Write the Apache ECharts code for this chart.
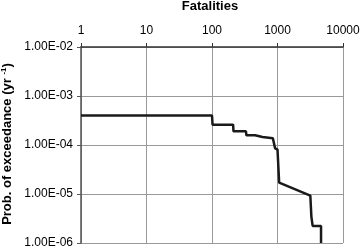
<!DOCTYPE html>
<html><head><meta charset="utf-8">
<script src="https://cdn.jsdelivr.net/npm/echarts@6/dist/echarts.min.js"></script>
<style>html,body{margin:0;padding:0;background:#fff}#c{width:360px;height:248px}</style>
</head><body><div id="c"></div>
<script>
var fatalities = [1, 100, 102, 210, 213, 330, 335, 455, 460, 590, 600, 850, 920, 1000, 1060, 3170, 3290, 3440, 4620, 4620];
var probExceed = [4.0e-4, 4.0e-4, 2.6e-4, 2.6e-4, 1.9e-4, 1.9e-4, 1.58e-4, 1.58e-4, 1.46e-4, 1.46e-4, 1.37e-4, 1.37e-4, 8.5e-5, 8.1e-5, 1.7e-5, 9.3e-6, 3.46e-6, 2.23e-6, 2.23e-6, 1.0e-6];
var xTicks = ['1', '10', '100', '1000', '10000'];
var yTicks = ['1.00E-06', '1.00E-05', '1.00E-04', '1.00E-03', '1.00E-02'];
var xTitle = 'Fatalities';
var yTitle = 'Prob. of exceedance (yr {s|-1})';

var pts = fatalities.map(function (f, i) { return [f, probExceed[i]]; });
function yFmt(v) {
  var e = Math.round(Math.log10(v));
  return yTicks[e + 6] || '';
}
function xFmt(v) {
  var e = Math.round(Math.log10(v));
  return xTicks[e] || '';
}
var chart = echarts.init(document.getElementById('c'), null, { renderer: 'canvas' });
var font = 'Liberation Sans, Arial, sans-serif';
chart.setOption({
  animation: false,
  grid: { left: 81, right: 17, top: 47, bottom: 5, containLabel: false, outerBoundsMode: 'none' },
  graphic: [
    { type: 'text', x: 210, y: 6, style: { text: xTitle, fontFamily: font, fontSize: 13, fontWeight: 'bold', fill: '#000', align: 'center', verticalAlign: 'middle' } },
    { type: 'text', x: 7, y: 144, rotation: Math.PI / 2, style: { text: yTitle, fontFamily: font, fontSize: 13, fontWeight: 'bold', fill: '#000', align: 'center', verticalAlign: 'middle',
      rich: { s: { fontFamily: font, fontSize: 8, fontWeight: 'bold', fill: '#000', verticalAlign: 'top', padding: [0, 0, 7, 0] } } } }
  ],
  xAxis: {
    type: 'log', logBase: 10, min: 1, max: 10000, position: 'top',
    axisLine: { show: true, onZero: false, lineStyle: { color: '#333', width: 1.5 } },
    axisTick: { show: true, length: 4, lineStyle: { color: '#333' } },
    minorTick: { show: false },
    axisLabel: { formatter: xFmt, fontFamily: font, fontSize: 12, color: '#000', margin: 10 },
    splitLine: { show: true, lineStyle: { color: '#999', width: 1 } }
  },
  yAxis: {
    type: 'log', logBase: 10, min: 1e-6, max: 1e-2,
    axisLine: { show: true, onZero: false, lineStyle: { color: '#555', width: 1.5 } },
    axisTick: { show: true, length: 4, lineStyle: { color: '#555' } },
    axisLabel: { formatter: yFmt, fontFamily: font, fontSize: 12, color: '#000', margin: 8 },
    splitLine: { show: true, lineStyle: { color: '#999', width: 1 } }
  },
  series: [{
    type: 'line', data: pts, showSymbol: false, symbol: 'none',
    lineStyle: { color: '#1a1a1a', width: 2.5 }, clip: true
  }]
});
</script></body></html>
